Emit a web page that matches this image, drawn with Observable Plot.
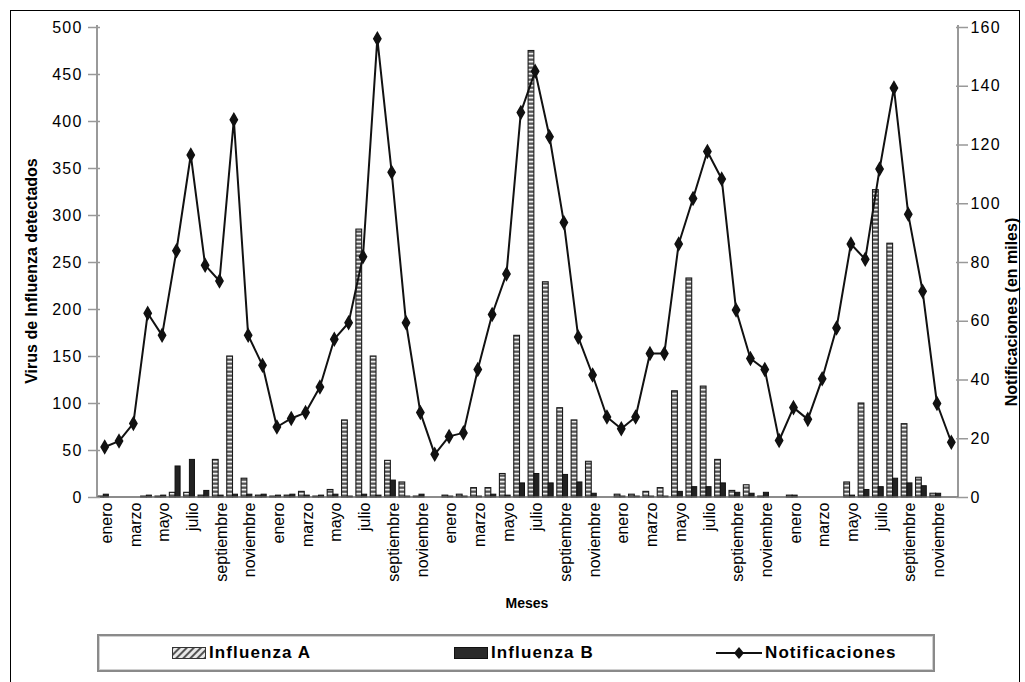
<!DOCTYPE html>
<html>
<head>
<meta charset="utf-8">
<script src="https://cdn.jsdelivr.net/npm/d3@7"></script>
<script src="https://cdn.jsdelivr.net/npm/@observablehq/plot@0.6"></script>
<style>
  html, body { margin: 0; padding: 0; background: #fff; width: 1025px; height: 682px; overflow: hidden; }
  body { font-family: "Liberation Sans", Arial, sans-serif; position: relative; }
  #frame { position: absolute; left: 10px; top: 10px; width: 1010px; height: 720px; border: 1px solid #000; box-sizing: border-box; }
  #chart { position: absolute; left: 0; top: 0; }
  .ytitle { position: absolute; white-space: nowrap; font-weight: bold; font-size: 16px; transform: translate(-50%, -50%) rotate(-90deg); color: #000; }
  #xtitle { position: absolute; left: 527px; top: 603px; transform: translate(-50%, -50%); font-weight: bold; font-size: 14px; }
  #legend { position: absolute; left: 97px; top: 634px; width: 838px; height: 38px; box-sizing: border-box; border: 2px solid #8a8a8a; box-shadow: inset 0 0 0 1px #d0d0d0; background: #fff; }
  .item { position: absolute; top: 0; height: 34px; display: flex; align-items: center; font-weight: bold; font-size: 17px; letter-spacing: 1.1px; }
  .item svg { margin-right: 3px; }
  g[aria-label="y-axis tick label"] text { letter-spacing: 1.2px; }
</style>
</head>
<body>
<div id="frame"></div>
<div id="chart"></div>
<div class="ytitle" style="left:32px; top:271px;">Virus de Influenza detectados</div>
<div class="ytitle" style="left:1012px; top:312px;">Notificaciones (en miles)</div>
<div id="xtitle">Meses</div>
<div id="legend"></div>
<script>
// Month names (tick labels)
const meses = ["enero","febrero","marzo","abril","mayo","junio","julio","agosto","septiembre","octubre","noviembre","diciembre"];

// Influenza A detections per month (5 years x 12 months)
const influenzaA = [
  1, 0, 0, 1, 1, 5, 5, 2, 40, 150, 20, 2,
  1, 2, 6, 1, 8, 82, 285, 150, 39, 16, 1, 0,
  2, 3, 10, 10, 25, 172, 475, 229, 95, 82, 38, 0,
  3, 3, 6, 10, 113, 233, 118, 40, 7, 13, 1, 0,
  2, 0, 0, 0, 16, 100, 327, 270, 78, 21, 4, 0
];

// Influenza B detections per month
const influenzaB = [
  3, 0, 0, 2, 2, 33, 40, 7, 2, 3, 3, 3,
  2, 3, 2, 2, 3, 1, 3, 2, 18, 1, 3, 0,
  1, 1, 1, 3, 2, 15, 25, 15, 24, 16, 4, 0,
  1, 1, 1, 1, 6, 11, 11, 15, 5, 4, 5, 0,
  2, 0, 0, 0, 2, 8, 11, 20, 15, 12, 4, 0
];

// Notificaciones (en miles), right axis
const notificaciones = [
  17.2, 19.2, 25.2, 62.7, 55.2, 84, 116.6, 79.1, 73.7, 128.6, 55.2, 45,
  24, 26.9, 28.9, 37.6, 53.9, 59.5, 82, 156.2, 110.7, 59.5, 28.9, 14.7,
  20.8, 22, 43.6, 62.3, 76.1, 131.1, 145.1, 122.8, 93.6, 54.6, 41.7, 27.4,
  23.4, 27.4, 49, 49, 86.3, 101.8, 117.8, 108.4, 63.8, 47.3, 43.6, 19.4,
  30.6, 26.6, 40.4, 57.7, 86.3, 81.1, 111.8, 139.4, 96.4, 70.2, 32, 18.8
];

const leftTicks = d3.range(0, 501, 50);
const rightTicks = d3.range(0, 161, 20);
const leftMax = 500, rightMax = 160;
const k = leftMax / rightMax;

const data = influenzaA.map((a, i) => ({i, a, b: influenzaB[i], n: notificaciones[i]}));

const defsMark = () => {
  const g = d3.create("svg:g");
  g.html(`<defs>
    <pattern id="hatchA" patternUnits="userSpaceOnUse" width="20" height="4">
      <rect width="20" height="4" fill="#555555"></rect>
      <rect y="0.8" width="20" height="1.7" fill="#eeeeee"></rect>
    </pattern>
  </defs>`);
  return g.node();
};

const axisLines = (index, scales, values, dims) => {
  const x0 = dims.marginLeft, x1 = dims.width - dims.marginRight;
  const y0 = dims.marginTop, y1 = dims.height - dims.marginBottom;
  const g = d3.create("svg:g");
  g.append("line").attr("x1", x0).attr("x2", x0).attr("y1", y0 - 2).attr("y2", y1).attr("stroke", "#999").attr("stroke-width", 2);
  g.append("line").attr("x1", x1).attr("x2", x1).attr("y1", y0 - 2).attr("y2", y1).attr("stroke", "#999").attr("stroke-width", 2);
  g.append("line").attr("x1", x0).attr("x2", x1).attr("y1", y1).attr("y2", y1).attr("stroke", "#666").attr("stroke-width", 1.5);
  return g.node();
};

const chart = Plot.plot({
  width: 1025,
  height: 615,
  marginLeft: 97,
  marginRight: 67,
  marginTop: 27,
  marginBottom: 118,
  style: {fontFamily: "'Liberation Sans', Arial, sans-serif", fontSize: "16px", color: "#000", background: "transparent"},
  x: {type: "band", domain: d3.range(60), padding: 0, round: false},
  y: {domain: [0, leftMax]},
  marks: [
    defsMark,
    Plot.barY(data, {x: "i", y: "a", fill: "url(#hatchA)", stroke: "#1a1a1a", strokeWidth: 1.1, insetLeft: 0.6, insetRight: 8}),
    Plot.barY(data, {x: "i", y: "b", fill: "#222", stroke: "#111", strokeWidth: 1, insetLeft: 6.3, insetRight: 3}),
    axisLines,
    Plot.axisY({ticks: leftTicks, tickSize: 12, dx: 3, tickPadding: 6, stroke: "#999", strokeWidth: 1.5, fontSize: 16, label: null}),
    Plot.axisY({anchor: "right", ticks: rightTicks.map(v => v * k), tickFormat: d => Math.round(d / k), tickSize: 12, dx: -3, tickPadding: 3, stroke: "#999", strokeWidth: 1.5, fontSize: 16, label: null}),
    Plot.axisX({ticks: d3.range(0, 60, 2), tickFormat: i => meses[i % 12], tickRotate: -90, tickSize: 0, tickPadding: 5, dx: 2, fontSize: 16, label: null}),
    Plot.line(data, {x: "i", y: d => d.n * k, stroke: "#111", strokeWidth: 2}),
    Plot.dot(data, {x: "i", y: d => d.n * k, symbol: "diamond", fill: "#111", stroke: "#111", r: 3.8})
  ]
});
document.getElementById("chart").appendChild(chart);

// Legend
const legend = document.getElementById("legend");
const items = [
  {label: "Influenza A", left: 73, sw: `<svg width="34" height="12"><defs><pattern id="diag" patternUnits="userSpaceOnUse" width="5" height="5" patternTransform="rotate(45)"><rect width="5" height="5" fill="#e8e8e8"/><rect width="2" height="5" fill="#555"/></pattern></defs><rect x="0.5" y="0.5" width="33" height="11" fill="url(#diag)" stroke="#333"/></svg>`},
  {label: "Influenza B", left: 355, sw: `<svg width="34" height="12"><rect x="0.5" y="0.5" width="33" height="11" fill="#2a2a2a" stroke="#111"/></svg>`},
  {label: "Notificaciones", left: 617, sw: `<svg width="46" height="14"><line x1="0" x2="46" y1="7" y2="7" stroke="#111" stroke-width="2"/><path d="M23 1 L28 7 L23 13 L18 7 Z" fill="#111"/></svg>`}
];
for (const it of items) {
  const d = document.createElement("div");
  d.className = "item";
  d.style.left = it.left + "px";
  d.innerHTML = it.sw + `<span>${it.label}</span>`;
  legend.appendChild(d);
}
</script>
</body>
</html>
